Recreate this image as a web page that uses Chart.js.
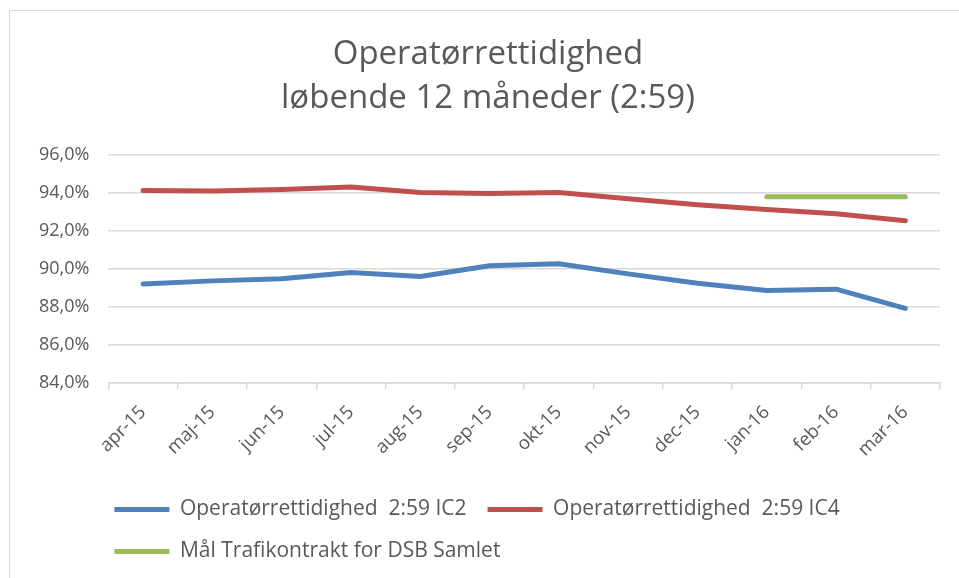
<!DOCTYPE html>
<html>
<head>
<meta charset="utf-8">
<script src="https://cdn.jsdelivr.net/npm/chart.js@4/dist/chart.umd.min.js"></script>
<style>
  html, body { margin: 0; padding: 0; background: #fff; overflow: hidden; }
  #wrap { position: relative; width: 959px; height: 578px; }
  #frame { position: absolute; left: 9px; top: 10px; width: 1200px; height: 800px;
           border-left: 1px solid #d9d9d9; border-top: 1px solid #d9d9d9; pointer-events: none; }
</style>
</head>
<body>
<div id="wrap"><canvas id="chart" width="959" height="578"></canvas><div id="frame"></div></div>
<script>
const months = ["apr-15", "maj-15", "jun-15", "jul-15", "aug-15", "sep-15", "okt-15", "nov-15", "dec-15", "jan-16", "feb-16", "mar-16"];
const ic2 = [89.20, 89.36, 89.47, 89.80, 89.59, 90.16, 90.26, 89.73, 89.24, 88.85, 88.92, 87.91];
const ic4 = [94.13, 94.10, 94.18, 94.32, 94.02, 93.97, 94.02, 93.70, 93.38, 93.13, 92.90, 92.53];
const target = [null, null, null, null, null, null, null, null, null, 93.80, 93.80, 93.80];
const seriesNames = ["Operatørrettidighed  2:59 IC2", "Operatørrettidighed  2:59 IC4", "Mål Trafikontrakt for DSB Samlet"];
const titleLines = ["Operatørrettidighed", "løbende 12 måneder (2:59)"];

const grey = "#595959";
const gridGrey = "#d9d9d9";
const fontFamily = "'Open Sans', 'Liberation Sans', sans-serif";

function lineDs(label, data, color) {
    return {
        label, data,
        borderColor: color, backgroundColor: color,
        borderWidth: 5, tension: 0, pointRadius: 0, pointHoverRadius: 0,
        pointStyle: "line",
        borderCapStyle: "round", borderJoinStyle: "round", fill: false,
    };
}

// nudge legend and title so they sit where the original puts them
const boxShift = {
    id: "boxShift",
    afterLayout(chart) {
        if (chart.legend) chart.legend.left -= 15;
        if (chart.titleBlock) chart.titleBlock.left += 16;
    },
};

new Chart(document.getElementById("chart"), {
    type: "line",
    data: {
        labels: months,
        datasets: [
            lineDs(seriesNames[0], ic2, "#4f81bd"),
            lineDs(seriesNames[1], ic4, "#c0504d"),
            lineDs(seriesNames[2], target, "#9bbb59"),
        ],
    },
    plugins: [boxShift],
    options: {
        responsive: false, animation: false,
        layout: { padding: { left: 20, right: 19, top: 32, bottom: 6 } },
        plugins: {
            title: {
                display: true, text: titleLines, color: grey,
                font: { family: fontFamily, size: 33, weight: "normal", lineHeight: 1.35 },
                padding: { top: 0, bottom: 34 },
            },
            legend: {
                position: "bottom", align: "start", fullSize: false,
                labels: {
                    color: grey, usePointStyle: true, pointStyleWidth: 55, padding: 21,
                    font: { family: fontFamily, size: 21 },
                },
            },
            tooltip: { enabled: false },
        },
        scales: {
            y: {
                min: 84, max: 96,
                ticks: {
                    stepSize: 2, color: grey, padding: 19,
                    font: { family: fontFamily, size: 18 },
                    callback: (v) => v.toFixed(1).replace(".", ",") + "%",
                },
                grid: { color: gridGrey, lineWidth: 1.5, drawTicks: false },
                border: { display: false },
            },
            x: {
                offset: true,
                afterFit: (scale) => { scale.height += 5; },
                ticks: {
                    color: grey, minRotation: 45, maxRotation: 45, padding: 12,
                    font: { family: fontFamily, size: 18.5 },
                },
                grid: { offset: true, drawOnChartArea: false, drawTicks: true, tickLength: 7, color: gridGrey, lineWidth: 1.5 },
                border: { display: true, color: gridGrey, width: 1.5 },
            },
        },
    },
});
</script>
</body>
</html>
